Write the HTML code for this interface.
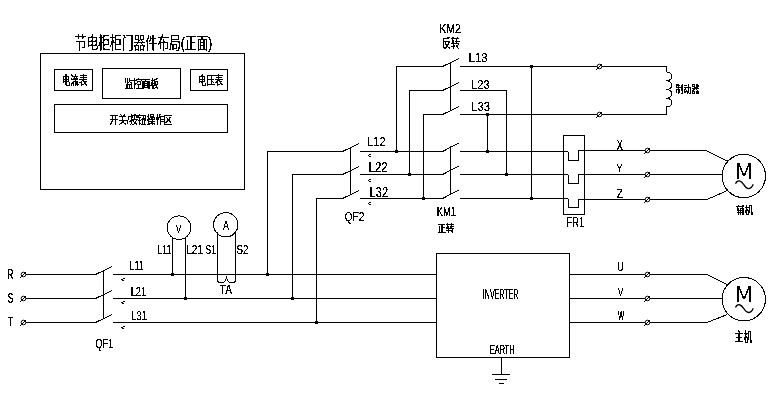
<!DOCTYPE html>
<html><head><meta charset="utf-8"><title>节电柜</title>
<style>
html,body{margin:0;padding:0;background:#fff}
svg{display:block}
text{fill:#000}
.l{font-family:"Liberation Sans",sans-serif}
.c{font-family:"Liberation Sans","Noto Sans CJK SC",sans-serif}
.d{font-family:"DejaVu Sans",sans-serif}
.s{font-family:"Liberation Serif","Noto Serif CJK SC",serif}
</style></head><body>
<svg width="779" height="419" viewBox="0 0 779 419">
<rect width="779" height="419" fill="#fff"/>
<path d="M40.5 53.5H244.5V189.5H40.5ZM54.5 69.5H92.5V90.5H54.5ZM102.5 68.5H180.5V98.5H102.5ZM190.5 69.5H227.5V90.5H190.5ZM54.5 104.5H227.5V132.5H54.5ZM26 274.5H96M113 274.5H436M570 274.5H707M26 298.5H96M113 298.5H436M570 298.5H707M26 322.5H96M113 322.5H436M570 322.5H707M103.5 270V318M172.5 237V274M185.5 237V298M217.5 232V280M235.5 232V280M267.5 151V274M267 151.5H343M360 151.5H443M460 151.5H568M568.5 151.5V160.5H578.5V150.5M578 150.5H707M292.5 174V298M292 174.5H343M360 174.5H443M460 174.5H568M568.5 174.5V183.5H578.5V174.5M578 174.5H722M316.5 198V322M316 198.5H343M360 198.5H443M460 198.5H568M568.5 198.5V207.5H578.5V198.5M578 199.5H707M350.5 147V195M450.5 146V195M563.5 135.5H584.5V214.5H563.5ZM396.5 66V151M396 66.5H443M409.5 90V174M409 90.5H443M423.5 114V198M423 114.5H443M450.5 62V110M460 66.5H666M460 90.5H506M460 114.5H666M506.5 90V174M487.5 114V151M531.5 66V198M666.5 66V72M666.5 107V115M706 298.5H722M436.5 253.5H569.5V357.5H436.5ZM501.5 357V374M492 374.5H510M495 379.5H507M499 383.5H504" fill="none" stroke="#000" stroke-width="1" shape-rendering="crispEdges"/>
<path d="M95.5 274.5L112 266.5M95.5 298.5L112 290.5M95.5 322.5L112 314.5M217.5 279.5Q217.5 282.5 220.5 282.5H222.5Q225 282.5 226.5 278Q228 282.5 230.5 282.5H232.5Q235.5 282.5 235.5 279.5M342.5 151.5L359 143.5M442.5 151.5L459 143M342.5 174.5L359 166.5M442.5 174.5L459 166M342.5 198.5L359 190.5M442.5 198.5L459 190M442.5 66.5L459 58.5M442.5 90.5L459 82.5M442.5 114.5L459 106.5M666.5 72C673.5 72.5 673.5 80.25 666.5 80.75C673.5 81.25 673.5 89 666.5 89.5C673.5 90 673.5 97.75 666.5 98.25C673.5 98.75 673.5 106.5 666.5 107M706 150.5L727.4 161M707 199.5L727.4 190.5M707 274.5L727.4 284.5M707 322.5L727.4 314.5" fill="none" stroke="#000" stroke-width="1" shape-rendering="crispEdges"/>
<path d="M735.5 183.7C737.5 179.2 741 180.2 744 184.9C747 190.2 751 189.7 753.2 184.3M735.5 307.6C737.5 303.1 741 304.1 744 308.8C747 314.1 751 313.6 753.2 308.2" fill="none" stroke="#000" stroke-width="1.3"/>
<g fill="none" stroke="#000" stroke-width="1" shape-rendering="crispEdges"><circle cx="743.8" cy="176" r="21.7"/><circle cx="743.8" cy="299.2" r="21.7"/><circle cx="179" cy="227.7" r="11.8"/><circle cx="225.75" cy="224.8" r="12.2"/></g>
<g fill="#fff" stroke="#000" stroke-width="1"><circle cx="23.5" cy="274.5" r="2.3"/><path d="M20 278L26 272"/><circle cx="647.5" cy="274.5" r="2.3"/><path d="M644 278L650 272"/><circle cx="23.5" cy="298.5" r="2.3"/><path d="M20 302L26 296"/><circle cx="647.5" cy="298.5" r="2.3"/><path d="M644 302L650 296"/><circle cx="23.5" cy="322.5" r="2.3"/><path d="M20 326L26 320"/><circle cx="647.5" cy="322.5" r="2.3"/><path d="M644 326L650 320"/><circle cx="647.5" cy="150.5" r="2.3"/><path d="M644 154L650 148"/><circle cx="647.5" cy="174.5" r="2.3"/><path d="M644 178L650 172"/><circle cx="647.5" cy="199.5" r="2.3"/><path d="M644 203L650 197"/><circle cx="599.5" cy="66.5" r="2.3"/><path d="M596 70L602 64"/><circle cx="599.5" cy="114.5" r="2.3"/><path d="M596 118L602 112"/></g>
<g fill="#000" shape-rendering="crispEdges"><rect x="171" y="273" width="3" height="3"/><rect x="184" y="297" width="3" height="3"/><rect x="266" y="273" width="3" height="3"/><rect x="291" y="297" width="3" height="3"/><rect x="315" y="321" width="3" height="3"/><rect x="395" y="150" width="3" height="3"/><rect x="408" y="173" width="3" height="3"/><rect x="422" y="197" width="3" height="3"/><rect x="505" y="173" width="3" height="3"/><rect x="486" y="113" width="3" height="3"/><rect x="486" y="150" width="3" height="3"/><rect x="530" y="65" width="3" height="3"/><rect x="530" y="197" width="3" height="3"/></g>
<defs><filter id="th" x="0" y="0" width="779" height="419" filterUnits="userSpaceOnUse" color-interpolation-filters="sRGB"><feComponentTransfer><feFuncA type="discrete" tableValues="0 1 1"/></feComponentTransfer></filter></defs>
<g filter="url(#th)">
<text class="c" x="74.69" y="48.69" font-size="16.70" textLength="137.59" lengthAdjust="spacingAndGlyphs">节电柜柜门器件布局(正面)</text>
<text class="c" x="61.77" y="84.84" font-size="12.04" textLength="25.68" lengthAdjust="spacingAndGlyphs" font-weight="500">电流表</text>
<text class="c" x="124.57" y="87.95" font-size="11.70" textLength="34.29" lengthAdjust="spacingAndGlyphs" font-weight="500">监控面板</text>
<text class="c" x="197.99" y="84.88" font-size="12.45" textLength="25.26" lengthAdjust="spacingAndGlyphs" font-weight="500">电压表</text>
<text class="c" x="109.57" y="123.95" font-size="11.70" textLength="62.85" lengthAdjust="spacingAndGlyphs" font-weight="500">开关/按钮操作区</text>
<text class="l" x="7.32" y="279.00" font-size="14.49" textLength="6.12" lengthAdjust="spacingAndGlyphs">R</text>
<text class="l" x="7.56" y="302.50" font-size="13.77" textLength="5.85" lengthAdjust="spacingAndGlyphs">S</text>
<text class="l" x="7.82" y="326.00" font-size="13.04" textLength="5.36" lengthAdjust="spacingAndGlyphs">T</text>
<text class="l" x="129.49" y="269.90" font-size="11.88" textLength="14.20" lengthAdjust="spacingAndGlyphs">L11</text>
<text class="l" x="130.66" y="296.00" font-size="12.46" textLength="15.49" lengthAdjust="spacingAndGlyphs">L21</text>
<text class="l" x="131.35" y="320.30" font-size="12.46" textLength="15.60" lengthAdjust="spacingAndGlyphs">L31</text>
<text class="l" x="95.55" y="347.50" font-size="12.32" textLength="17.44" lengthAdjust="spacingAndGlyphs">QF1</text>
<text class="l" x="176.12" y="232.60" font-size="11.01" textLength="5.13" lengthAdjust="spacingAndGlyphs">V</text>
<text class="l" x="223.00" y="229.50" font-size="13.04" textLength="6.06" lengthAdjust="spacingAndGlyphs">A</text>
<text class="l" x="157.29" y="254.00" font-size="13.04" textLength="14.20" lengthAdjust="spacingAndGlyphs">L11</text>
<text class="l" x="186.19" y="254.00" font-size="13.04" textLength="16.79" lengthAdjust="spacingAndGlyphs">L21</text>
<text class="l" x="205.58" y="254.00" font-size="13.04" textLength="10.38" lengthAdjust="spacingAndGlyphs">S1</text>
<text class="l" x="236.51" y="254.00" font-size="13.04" textLength="12.01" lengthAdjust="spacingAndGlyphs">S2</text>
<text class="l" x="219.80" y="294.00" font-size="13.04" textLength="12.24" lengthAdjust="spacingAndGlyphs">TA</text>
<text class="l" x="367.12" y="146.00" font-size="12.32" textLength="18.42" lengthAdjust="spacingAndGlyphs">L12</text>
<text class="l" x="368.59" y="172.00" font-size="13.77" textLength="18.96" lengthAdjust="spacingAndGlyphs">L22</text>
<text class="l" x="369.62" y="197.00" font-size="13.77" textLength="18.42" lengthAdjust="spacingAndGlyphs">L32</text>
<text class="l" x="344.48" y="221.00" font-size="13.04" textLength="20.08" lengthAdjust="spacingAndGlyphs">QF2</text>
<text class="l" x="439.15" y="33.00" font-size="12.32" textLength="21.84" lengthAdjust="spacingAndGlyphs">KM2</text>
<text class="c" x="442.05" y="47.90" font-size="12.23" textLength="17.80" lengthAdjust="spacingAndGlyphs" font-weight="500">反转</text>
<text class="l" x="468.59" y="62.00" font-size="13.04" textLength="18.96" lengthAdjust="spacingAndGlyphs">L13</text>
<text class="l" x="471.12" y="89.00" font-size="13.04" textLength="18.42" lengthAdjust="spacingAndGlyphs">L23</text>
<text class="l" x="471.09" y="111.00" font-size="13.04" textLength="18.96" lengthAdjust="spacingAndGlyphs">L33</text>
<text class="l" x="436.75" y="216.00" font-size="12.32" textLength="19.18" lengthAdjust="spacingAndGlyphs">KM1</text>
<text class="c" x="437.58" y="231.59" font-size="10.11" textLength="16.75" lengthAdjust="spacingAndGlyphs" font-weight="500">正转</text>
<text class="l" x="566.23" y="227.00" font-size="13.77" textLength="18.25" lengthAdjust="spacingAndGlyphs">FR1</text>
<text class="c" x="675.77" y="92.63" font-size="9.68" textLength="23.47" lengthAdjust="spacingAndGlyphs" font-weight="500">制动器</text>
<text class="l" x="616.73" y="149.80" font-size="14.20" textLength="6.01" lengthAdjust="spacingAndGlyphs">X</text>
<text class="l" x="616.20" y="172.00" font-size="11.01" textLength="6.56" lengthAdjust="spacingAndGlyphs">Y</text>
<text class="l" x="616.70" y="197.70" font-size="13.48" textLength="6.11" lengthAdjust="spacingAndGlyphs">Z</text>
<text class="l" x="617.29" y="270.50" font-size="12.32" textLength="6.45" lengthAdjust="spacingAndGlyphs">U</text>
<text class="l" x="617.92" y="295.50" font-size="11.59" textLength="5.13" lengthAdjust="spacingAndGlyphs">V</text>
<text class="l" x="617.94" y="320.00" font-size="13.04" textLength="6.09" lengthAdjust="spacingAndGlyphs">W</text>
<text class="d" x="733.71" y="178.50" font-size="20.82" textLength="20.45" lengthAdjust="spacingAndGlyphs" font-weight="200">M</text>
<text class="d" x="733.71" y="302.00" font-size="20.82" textLength="20.45" lengthAdjust="spacingAndGlyphs" font-weight="200">M</text>
<text class="c" x="736.25" y="213.63" font-size="10.74" textLength="16.92" lengthAdjust="spacingAndGlyphs" font-weight="500">辅机</text>
<text class="c" x="734.55" y="341.27" font-size="12.55" textLength="17.93" lengthAdjust="spacingAndGlyphs" font-weight="500">主机</text>
<text class="l" x="482.87" y="299.00" font-size="13.77" textLength="35.55" lengthAdjust="spacingAndGlyphs">INVERTER</text>
<text class="l" x="489.91" y="353.50" font-size="13.04" textLength="24.68" lengthAdjust="spacingAndGlyphs">EARTH</text>
<text class="l" x="120.92" y="281.84" font-size="8.00" textLength="4.41" lengthAdjust="spacingAndGlyphs">&lt;</text>
<text class="l" x="120.92" y="305.34" font-size="8.00" textLength="4.41" lengthAdjust="spacingAndGlyphs">&lt;</text>
<text class="l" x="120.92" y="329.64" font-size="8.00" textLength="4.41" lengthAdjust="spacingAndGlyphs">&lt;</text>
<text class="l" x="367.62" y="158.14" font-size="8.00" textLength="4.41" lengthAdjust="spacingAndGlyphs">&lt;</text>
<text class="l" x="367.62" y="182.64" font-size="8.00" textLength="4.41" lengthAdjust="spacingAndGlyphs">&lt;</text>
<text class="l" x="367.62" y="205.64" font-size="8.00" textLength="4.41" lengthAdjust="spacingAndGlyphs">&lt;</text>
</g>
</svg>
</body></html>
